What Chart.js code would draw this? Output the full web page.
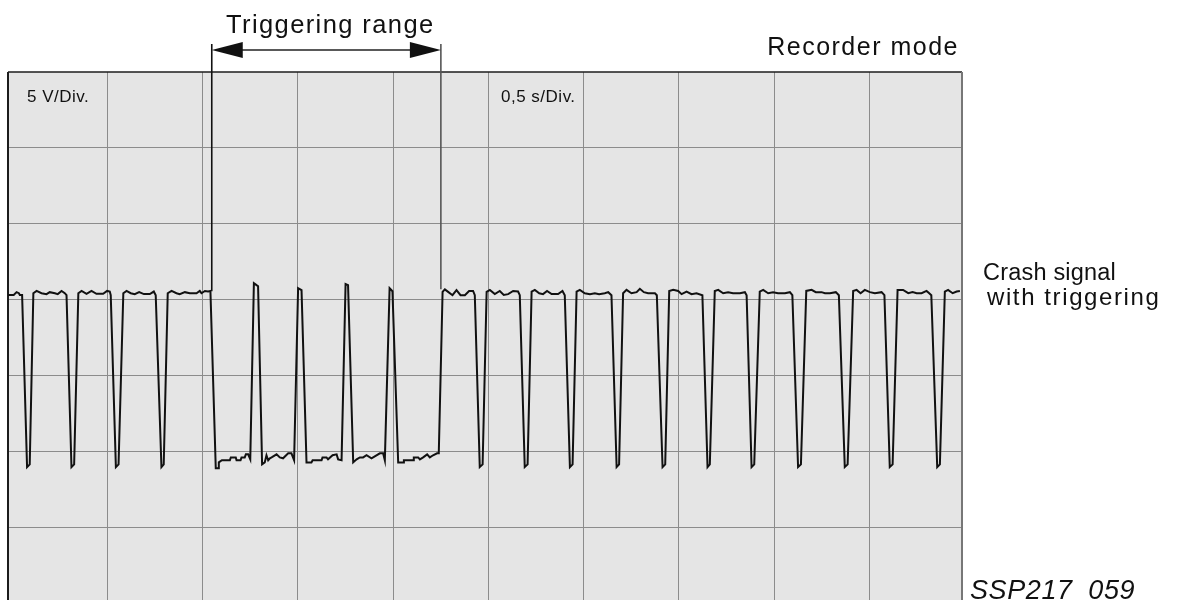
<!DOCTYPE html>
<html>
<head>
<meta charset="utf-8">
<script src="https://cdn.jsdelivr.net/npm/chart.js@4.4.1/dist/chart.umd.min.js"></script>
<style>
  html, body { margin: 0; padding: 0; background: #fff; overflow: hidden; }
  #wrap { position: relative; width: 1188px; height: 600px; overflow: hidden; }
  #scope { position: absolute; left: 0; top: 0; }
  .lbl {
    position: absolute;
    font-family: "Liberation Sans", Arial, sans-serif;
    color: #111;
    white-space: pre;
    line-height: 1;
  }
</style>
</head>
<body>
<div id="wrap">
  <canvas id="scope" width="1188" height="600"></canvas>
  <div class="lbl" style="left:226px; top:12px; font-size:25.5px; letter-spacing:1.4px;">Triggering range</div>
  <div class="lbl" style="right:229px; top:34px; font-size:25px; letter-spacing:1.5px;">Recorder mode</div>
  <div class="lbl" style="left:27px; top:88px; font-size:17px; letter-spacing:0.5px;">5 V/Div.</div>
  <div class="lbl" style="left:501px; top:88px; font-size:17px; letter-spacing:0.5px;">0,5 s/Div.</div>
  <div class="lbl" style="left:983px; top:261px; font-size:23.5px; letter-spacing:0.2px;">Crash signal</div>
  <div class="lbl" style="left:987px; top:285px; font-size:24px; letter-spacing:1.6px;">with triggering</div>
  <div class="lbl" style="left:970px; top:577px; font-size:27px; font-style:italic; letter-spacing:0.6px;">SSP217_059</div>
</div>
<script>
// time in s (0,5 s/Div.), voltage in V (5 V/Div.)
const gridTimes = [0.5, 1.0, 1.5, 2.0, 2.5, 3.0, 3.5, 4.0, 4.5];
const gridVolts = [0, 5, 10, 15, 20, 25];

// crash signal before the triggering range
const tBefore = [-0.020, 0.010, 0.025, 0.037, 0.042, 0.054, 0.080, 0.094, 0.113,
  0.130, 0.156, 0.182, 0.199, 0.226, 0.241, 0.261, 0.278, 0.287, 0.313, 0.327, 0.349,
  0.366, 0.392, 0.418, 0.444, 0.479, 0.500, 0.514, 0.519, 0.546, 0.560, 0.585,
  0.602, 0.624, 0.645, 0.668, 0.693, 0.724, 0.745, 0.755, 0.785, 0.797, 0.818,
  0.838, 0.864, 0.881, 0.908, 0.934, 0.969, 0.986, 0.995, 1.013, 1.030, 1.042];
const uBefore = [15.31, 15.31, 15.49, 15.42, 15.31, 15.31, 3.96, 4.14, 15.42,
  15.57, 15.42, 15.36, 15.49, 15.42, 15.36, 15.57, 15.42, 15.29, 3.96, 4.14, 15.42,
  15.57, 15.38, 15.57, 15.38, 15.38, 15.57, 15.53, 15.29, 3.96, 4.14, 15.42,
  15.57, 15.42, 15.36, 15.49, 15.36, 15.36, 15.53, 15.29, 3.96, 4.14, 15.42,
  15.57, 15.42, 15.36, 15.49, 15.42, 15.42, 15.57, 15.42, 15.57, 15.53, 15.57];

// inside the triggering range
const tTrigger = [1.070, 1.082, 1.086, 1.102, 1.144, 1.149, 1.175, 1.179, 1.200, 1.205,
  1.222, 1.228, 1.240, 1.251, 1.270, 1.284, 1.292, 1.313, 1.327, 1.336, 1.345, 1.354,
  1.363, 1.389, 1.406, 1.423, 1.450, 1.467, 1.481, 1.502, 1.520, 1.546, 1.572, 1.578,
  1.625, 1.630, 1.651, 1.659, 1.683, 1.704, 1.712, 1.730, 1.751, 1.764, 1.791, 1.809,
  1.826, 1.843, 1.861, 1.887, 1.931, 1.948, 1.957, 1.982, 1.997, 2.027, 2.053, 2.057,
  2.105, 2.109, 2.132, 2.141, 2.158, 2.179, 2.193, 2.210, 2.231, 2.240];
const uTrigger = [3.88, 3.88, 4.27, 4.41, 4.41, 4.60, 4.60, 4.41, 4.41, 4.60,
  4.60, 4.80, 4.80, 4.47, 16.08, 15.95, 15.88, 4.14, 4.27, 4.74, 4.41, 4.54,
  4.60, 4.80, 4.60, 4.54, 4.87, 4.87, 4.41, 15.75, 15.62, 4.27, 4.27, 4.41,
  4.41, 4.60, 4.60, 4.47, 4.74, 4.80, 4.47, 4.41, 16.02, 15.95, 4.27, 4.47,
  4.60, 4.60, 4.74, 4.54, 4.87, 4.87, 4.41, 15.75, 15.55, 4.27, 4.27, 4.41,
  4.41, 4.60, 4.60, 4.47, 4.60, 4.80, 4.60, 4.74, 4.87, 4.87];

// after the triggering range
const tAfter = [2.260, 2.272, 2.289, 2.312, 2.333, 2.354, 2.377, 2.399, 2.420, 2.429,
  2.455, 2.470, 2.491, 2.508, 2.534, 2.560, 2.581, 2.604, 2.630, 2.656, 2.665,
  2.691, 2.706, 2.727, 2.744, 2.767, 2.787, 2.808, 2.832, 2.866, 2.889, 2.901,
  2.928, 2.942, 2.963, 2.980, 3.006, 3.033, 3.059, 3.081, 3.111, 3.129, 3.146,
  3.173, 3.186, 3.207, 3.225, 3.251, 3.278, 3.295, 3.316, 3.338, 3.374, 3.384,
  3.414, 3.428, 3.449, 3.470, 3.496, 3.514, 3.540, 3.566, 3.592, 3.623,
  3.650, 3.662, 3.688, 3.706, 3.732, 3.758, 3.784, 3.820, 3.846, 3.855,
  3.881, 3.895, 3.924, 3.942, 3.968, 3.994, 4.020, 4.056, 4.082, 4.095,
  4.125, 4.140, 4.168, 4.196, 4.218, 4.248, 4.266, 4.292, 4.323, 4.339,
  4.370, 4.385, 4.414, 4.432, 4.453, 4.475, 4.502, 4.528, 4.563, 4.578,
  4.606, 4.621, 4.647, 4.676, 4.703, 4.726, 4.747, 4.773, 4.799, 4.813, 4.824,
  4.855, 4.869, 4.895, 4.912, 4.936, 4.957, 4.974];
const uAfter = [15.51, 15.67, 15.51, 15.29, 15.62, 15.29, 15.29, 15.57, 15.57, 15.29,
  3.96, 4.14, 15.51, 15.64, 15.36, 15.57, 15.31, 15.36, 15.57, 15.53, 15.29,
  3.96, 4.14, 15.53, 15.64, 15.42, 15.36, 15.57, 15.36, 15.36, 15.57, 15.29,
  3.96, 4.14, 15.53, 15.64, 15.42, 15.36, 15.42, 15.36, 15.42, 15.49, 15.29,
  3.96, 4.14, 15.42, 15.64, 15.42, 15.49, 15.71, 15.49, 15.42, 15.42, 15.29,
  3.96, 4.14, 15.57, 15.64, 15.57, 15.36, 15.53, 15.36, 15.42, 15.29,
  3.96, 4.14, 15.57, 15.64, 15.42, 15.49, 15.42, 15.42, 15.49, 15.29,
  3.96, 4.14, 15.53, 15.64, 15.42, 15.49, 15.42, 15.42, 15.49, 15.29,
  3.96, 4.14, 15.57, 15.64, 15.49, 15.49, 15.42, 15.42, 15.49, 15.29,
  3.96, 4.14, 15.57, 15.64, 15.42, 15.64, 15.49, 15.42, 15.49, 15.29,
  3.96, 4.14, 15.64, 15.64, 15.42, 15.49, 15.42, 15.42, 15.57, 15.42, 15.29,
  3.96, 4.14, 15.53, 15.64, 15.42, 15.53, 15.57];

// triggering range limits (s) and where the marker lines meet the trace (V)
const triggerRange = [1.049, 2.251];
const triggerLevel = [15.55, 15.68];

const toPoints = (ts, us) => ts.map((t, i) => ({ x: t, y: us[i] }));
const trace = [
  ...toPoints(tBefore, uBefore),
  ...toPoints(tTrigger, uTrigger),
  ...toPoints(tAfter, uAfter),
];

const scopeDecor = {
  id: "scopeDecor",
  beforeDraw(chart) {
    const { ctx, chartArea: a } = chart;
    ctx.save();
    ctx.fillStyle = "#e5e5e5";
    ctx.fillRect(a.left, a.top, a.right - a.left, a.bottom - a.top);
    ctx.restore();
  },
  beforeDatasetsDraw(chart) {
    const { ctx, chartArea: a } = chart;
    ctx.save();
    ctx.strokeStyle = "#1c1c1c";
    ctx.lineWidth = 1.6;
    ctx.beginPath();
    ctx.moveTo(a.left, a.top);
    ctx.lineTo(a.right, a.top);
    ctx.stroke();
    ctx.lineWidth = 2;
    ctx.beginPath();
    ctx.moveTo(a.left, a.top);
    ctx.lineTo(a.left, a.bottom);
    ctx.stroke();
    ctx.strokeStyle = "#777";
    ctx.beginPath();
    ctx.moveTo(a.right, a.top);
    ctx.lineTo(a.right, a.bottom);
    ctx.stroke();
    ctx.restore();
  },
  afterDatasetsDraw(chart) {
    const { ctx, chartArea: a, scales } = chart;
    const x0 = scales.x.getPixelForValue(triggerRange[0]);
    const x1 = scales.x.getPixelForValue(triggerRange[1]);
    const top = a.top - 28;
    const arrowY = a.top - 22;
    ctx.save();
    ctx.lineWidth = 1.6;
    ctx.strokeStyle = "#111";
    ctx.beginPath();
    ctx.moveTo(x0, top);
    ctx.lineTo(x0, scales.y.getPixelForValue(triggerLevel[0]));
    ctx.stroke();
    ctx.strokeStyle = "#555";
    ctx.beginPath();
    ctx.moveTo(x1, top);
    ctx.lineTo(x1, scales.y.getPixelForValue(triggerLevel[1]));
    ctx.stroke();

    // double arrow
    ctx.strokeStyle = "#222";
    ctx.lineWidth = 1.5;
    ctx.beginPath();
    ctx.moveTo(x0 + 20, arrowY);
    ctx.lineTo(x1 - 20, arrowY);
    ctx.stroke();
    ctx.fillStyle = "#111";
    ctx.beginPath();
    ctx.moveTo(x0, arrowY);
    ctx.lineTo(x0 + 31, arrowY - 8);
    ctx.lineTo(x0 + 31, arrowY + 8);
    ctx.closePath();
    ctx.fill();
    ctx.beginPath();
    ctx.moveTo(x1, arrowY);
    ctx.lineTo(x1 - 31, arrowY - 8);
    ctx.lineTo(x1 - 31, arrowY + 8);
    ctx.closePath();
    ctx.fill();
    ctx.restore();
  },
};

new Chart(document.getElementById("scope"), {
  type: "line",
  data: {
    datasets: [
      {
        label: "Crash signal",
        data: trace,
        borderColor: "#111",
        borderWidth: 2,
        pointRadius: 0,
        tension: 0,
        fill: false,
      },
    ],
  },
  options: {
    responsive: false,
    animation: false,
    devicePixelRatio: 1,
    layout: { padding: { left: 8, top: 72, right: 226, bottom: 0 } },
    plugins: { legend: { display: false }, tooltip: { enabled: false } },
    scales: {
      x: {
        type: "linear",
        min: -0.02,
        max: 4.985,
        afterBuildTicks: (scale) => {
          scale.ticks = gridTimes.map((v) => ({ value: v }));
        },
        ticks: { display: false },
        border: { display: false },
        grid: { color: "#8c8c8c", lineWidth: 1, drawTicks: false },
      },
      y: {
        type: "linear",
        min: -4.8,
        max: 30,
        afterBuildTicks: (scale) => {
          scale.ticks = gridVolts.map((v) => ({ value: v }));
        },
        ticks: { display: false },
        border: { display: false },
        grid: { color: "#8c8c8c", lineWidth: 1, drawTicks: false },
      },
    },
  },
  plugins: [scopeDecor],
});
</script>
</body>
</html>
